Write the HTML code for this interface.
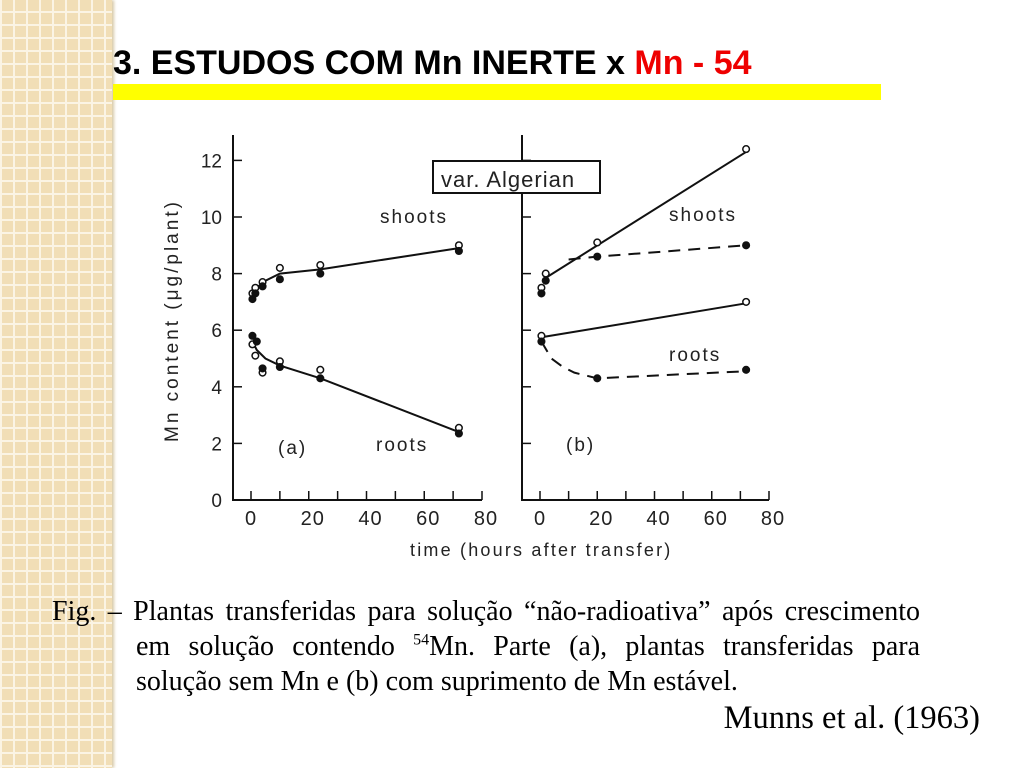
<!DOCTYPE html>
<html><head><meta charset="utf-8"><style>
body{margin:0;width:1024px;height:768px;position:relative;background:#fff;overflow:hidden;font-family:"Liberation Sans",sans-serif}
#strip{position:absolute;left:0;top:0;width:112px;height:768px;background-color:#f1deb6;
background-image:linear-gradient(90deg,#fbf4e4 2px,transparent 2px),linear-gradient(0deg,#fbf4e4 2px,transparent 2px);background-size:13px 13px;box-shadow:2px 0 3px #d8c9a6}
#title{position:absolute;left:113px;top:46px;font-size:34px;line-height:34px;font-weight:bold;color:#000;white-space:nowrap}
#title span{color:#e00}
#bar{position:absolute;left:113px;top:84px;width:768px;height:16px;background:#ffff00}
#cap{position:absolute;left:52px;top:594px;width:868px;font-family:"Liberation Serif",serif;font-size:28px;line-height:35px;color:#000}
#cap .f{display:block;text-align:justify;text-align-last:justify;white-space:nowrap}
#cap .l{display:block;margin-left:84px;text-align:justify;text-align-last:justify;white-space:nowrap}
#cap .m{display:block;margin-left:84px;white-space:nowrap}
#cit{position:absolute;right:44px;top:702px;font-family:"Liberation Serif",serif;font-size:32.5px;line-height:32.5px;white-space:nowrap}
svg{position:absolute;left:0;top:0}
</style></head><body>
<div id="strip"></div>
<div id="title">3. ESTUDOS COM Mn INERTE x <span>Mn - 54</span></div>
<div id="bar"></div>
<svg id="chart" width="1024" height="768"></svg>
<div id="cap"><span class="f">Fig. – Plantas transferidas para solução “não-radioativa” após crescimento</span><span class="l">em solução contendo <sup style="font-size:16px;line-height:0">54</sup>Mn. Parte (a), plantas transferidas para</span><span class="m">solução sem Mn e (b) com suprimento de Mn estável.</span></div>
<div id="cit">Munns et al. (1963)</div>
<script>
const yTicks=[0,2,4,6,8,10,12];
const xTicks=[0,20,40,60,80];
const aShootOpenX=[0.5,1.5,4,10,24,72], aShootOpenY=[7.3,7.5,7.7,8.2,8.3,9.0];
const aShootFillX=[0.5,1.5,4,10,24,72], aShootFillY=[7.1,7.3,7.55,7.8,8.0,8.8];
const aRootOpenX=[0.5,1.5,4,10,24,72], aRootOpenY=[5.5,5.1,4.5,4.9,4.6,2.55];
const aRootFillX=[0.5,2,4,10,24,72], aRootFillY=[5.8,5.6,4.65,4.7,4.3,2.35];
const aShootFitX=[0.5,2,5,10,24,72], aShootFitY=[7.2,7.5,7.75,8.0,8.15,8.9];
const aRootFitX=[0.5,2,5,10,24,72], aRootFitY=[5.6,5.3,5.0,4.75,4.3,2.4];
const bShootOpenX=[0.5,2,20,72], bShootOpenY=[7.5,8.0,9.1,12.4];
const bShootFillX=[0.5,2,20,72], bShootFillY=[7.3,7.75,8.6,9.0];
const bRootOpenX=[0.5,72], bRootOpenY=[5.8,7.0];
const bRootFillX=[0.5,20,72], bRootFillY=[5.6,4.3,4.6];
const bShootFitX=[2,72], bShootFitY=[7.85,12.3];
const bShootDashX=[10,20,72], bShootDashY=[8.5,8.6,9.0];
const bRootFitX=[0.5,72], bRootFitY=[5.75,6.95];
const bRootDashX=[0.5,4,8,12,20,72], bRootDashY=[5.6,5.0,4.7,4.5,4.3,4.55];

const svg=document.getElementById('chart');const NS='http://www.w3.org/2000/svg';
const y=v=>500-v*28.3;
function mk(t,a,p){const e=document.createElementNS(NS,t);for(const k in a)e.setAttribute(k,a[k]);(p||svg).appendChild(e);return e;}
function panel(name,x0,x80,yAxX,yl){
  const X=v=>x0+(x80-x0)*v/80;
  const g=mk('g',{});
  
  
  const ya=mk('line',{x1:yAxX,y1:135,x2:yAxX,y2:501,stroke:'#111','stroke-width':2},g);
  
  const xa=mk('line',{x1:yAxX,y1:500,x2:X(80),y2:500,stroke:'#111','stroke-width':2},g);
  
  for(let i=0;i<=8;i++){mk('line',{x1:X(i*10),y1:491,x2:X(i*10),y2:500,stroke:'#111','stroke-width':1.5},g);}
  yTicks.forEach(v=>{mk('line',{x1:yAxX,y1:y(v),x2:yAxX+9,y2:y(v),stroke:'#111','stroke-width':1.5},g);
    if(yl){const t=mk('text',{x:yl,y:y(v)+7,'text-anchor':'end','font-size':19,fill:'#222'},g);t.textContent=v;
    }});
  xTicks.forEach(v=>{const t=mk('text',{x:X(v)+(v==0?0:4),y:525,'text-anchor':'middle','font-size':20,fill:'#222','letter-spacing':1},g);t.textContent=v;
    });
  return {g,X};
}
function line(p,xs,ys,dash,nm){
  const pts=xs.map((v,i)=>p.X(v)+','+y(ys[i])).join(' ');
  const e=mk('polyline',{points:pts,fill:'none',stroke:'#111','stroke-width':2,'stroke-dasharray':dash?'12,8':'none'},p.g);
  
}
function pts(p,xs,ys,open,nm){
  xs.forEach((v,i)=>{const c=mk('circle',{cx:p.X(v),cy:y(ys[i]),r:3.3,fill:open?'#fff':'#111',stroke:'#111','stroke-width':1.5},p.g);
    });
}
const A=panel('panel-a',251,482,233,222);
line(A,aShootFitX,aShootFitY,false,'shoots-fit-line');
line(A,aRootFitX,aRootFitY,false,'roots-fit-line');
pts(A,aShootOpenX,aShootOpenY,true,'shoots-open-point');
pts(A,aShootFillX,aShootFillY,false,'shoots-filled-point');
pts(A,aRootOpenX,aRootOpenY,true,'roots-open-point');
pts(A,aRootFillX,aRootFillY,false,'roots-filled-point');
const B=panel('panel-b',540,769,522,0);
line(B,bShootFitX,bShootFitY,false,'shoots-solid-line');
line(B,bShootDashX,bShootDashY,true,'shoots-dashed-line');
line(B,bRootFitX,bRootFitY,false,'roots-solid-line');
line(B,bRootDashX,bRootDashY,true,'roots-dashed-line');
pts(B,bShootOpenX,bShootOpenY,true,'shoots-open-point');
pts(B,bShootFillX,bShootFillY,false,'shoots-filled-point');
pts(B,bRootOpenX,bRootOpenY,true,'roots-open-point');
pts(B,bRootFillX,bRootFillY,false,'roots-filled-point');
function txt(s,x,yy,nm,extra){const t=mk('text',Object.assign({x:x,y:yy,'font-size':19,fill:'#222','letter-spacing':2},extra||{}));t.textContent=s;
  return t;}
const box=mk('rect',{x:433,y:161,width:167,height:32,fill:'#fff',stroke:'#111','stroke-width':2});

txt('var. Algerian',441,187,'variety-label',{'font-size':22,'letter-spacing':1});
txt('shoots',380,223,'shoots-label-a');
txt('roots',376,451,'roots-label-a');
txt('(a)',278,454,'panel-a-label');
txt('shoots',669,221,'shoots-label-b');
txt('roots',669,361,'roots-label-b');
txt('(b)',566,451,'panel-b-label');
txt('time (hours after transfer)',410,556,'x-axis-title',{'font-size':18,'letter-spacing':2.2});
txt('Mn content (μg/plant)',0,0,'y-axis-title',{transform:'translate(178,442) rotate(-90)','font-size':19,'letter-spacing':3});
</script>
</body></html>
